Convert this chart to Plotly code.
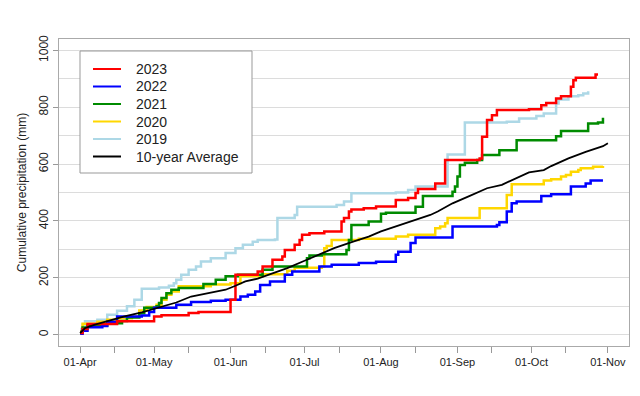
import plotly.graph_objects as go

YEAR = "2000"  # common plotting year (month-day axis)

dates_2023 = ["04-01","04-02","04-04","04-16","05-01","05-04","05-15","05-19","06-01","06-03",
              "06-12","06-14","06-18","06-22","06-23","06-27","06-29","06-30","07-03","07-09",
              "07-16","07-17","07-19","07-20","07-25","07-30","08-07","08-12","08-15","08-16",
              "08-23","08-27","09-10","09-11","09-13","09-15","09-17","09-30","10-05","10-07",
              "10-11","10-13","10-17","10-18","10-19","10-27","10-28"]
vals_2023 = [6,20,37,47,64,68,76,80,123,211,
             222,240,263,275,298,316,333,351,357,363,
             398,410,433,440,445,451,474,481,498,512,
             532,614,620,696,755,772,790,793,807,815,
             831,839,872,895,904,915,915]

dates_2022 = ["04-01","04-02","04-04","04-10","04-12","04-16","04-26","04-29","05-01","05-10",
              "05-16","05-24","05-30","06-05","06-08","06-11","06-13","06-17","06-23","06-26",
              "07-07","07-12","07-23","07-30","08-07","08-08","08-13","08-15","08-30","09-17",
              "09-18","09-21","09-23","09-25","10-05","10-09","10-17","10-23","10-25","10-30"]
vals_2022 = [3,14,26,30,45,64,67,80,95,105,
             115,119,123,134,140,152,175,187,211,222,
             240,246,252,256,281,292,322,342,380,386,
             395,433,462,468,488,494,521,532,542,542]

dates_2021 = ["04-01","04-02","04-04","04-12","04-18","04-20","04-25","04-27","05-02","05-03",
              "05-04","05-06","05-08","05-11","05-21","05-26","05-30","06-04","06-14","06-18",
              "07-02","07-03","07-08","07-18","07-19","07-20","07-27","08-01","08-03","08-15",
              "08-18","08-30","08-31","09-01","09-02","09-04","09-09","09-11","09-18","09-25",
              "10-11","10-13","10-24","10-28","10-30"]
vals_2021 = [10,25,32,40,48,60,75,95,100,111,
             129,146,158,164,178,193,205,211,228,240,
             269,278,283,298,333,386,398,425,429,450,
             488,503,521,556,597,605,614,632,649,684,
             698,716,743,746,763]

dates_2020 = ["04-01","04-02","04-08","04-12","04-17","04-22","04-25","04-28","05-02","05-04",
              "05-06","05-08","05-11","05-24","06-01","06-05","06-14","06-24","06-27","07-08",
              "07-09","07-10","07-12","07-23","08-07","08-12","08-23","08-25","08-27","08-28",
              "09-10","09-21","09-23","10-06","10-09","10-13","10-15","10-17","10-20","10-21",
              "10-26","10-30"]
vals_2020 = [12,38,45,52,58,63,85,97,105,123,
             140,152,170,176,181,205,212,225,235,240,
             304,312,333,337,345,351,374,380,392,410,
             445,491,529,542,547,556,562,573,579,585,
             591,593]

dates_2019 = ["04-01","04-02","04-03","04-08","04-12","04-16","04-20","04-23","04-26","05-03",
              "05-07","05-09","05-10","05-12","05-15","05-18","05-20","05-24","05-30","06-03",
              "06-06","06-10","06-12","06-19","06-20","06-27","06-28","07-14","07-17","07-20",
              "08-07","08-12","08-15","08-28","09-04","09-21","09-26","10-03","10-06","10-11",
              "10-12","10-16","10-20","10-22","10-24"]
vals_2019 = [20,35,47,52,70,84,100,123,161,166,
             172,181,193,211,228,240,257,269,287,304,
             316,327,333,335,410,421,450,456,468,497,
             500,509,521,634,746,749,760,769,778,813,
             827,839,842,848,856]

dates_avg = ["04-01","04-03","04-07","04-12","04-19","04-26","05-02","05-10","05-16","05-23",
             "05-30","06-03","06-07","06-12","06-24","07-01","07-08","07-13","07-21","07-27",
             "08-01","08-08","08-15","08-21","08-24","08-30","09-06","09-13","09-19","09-25",
             "09-30","10-06","10-09","10-16","10-23","10-30","11-01"]
vals_avg = [5,23,35,47,64,78,94,113,134,146,
            158,172,187,197,234,260,287,304,328,345,
            363,383,404,421,433,462,488,515,527,550,
            571,579,593,620,643,663,673]

# drawing order (bottom to top)
series = [
    ("2019", dates_2019, vals_2019, "#ADD8E6", 2.5, "hv"),
    ("2020", dates_2020, vals_2020, "#FFD700", 2.5, "hv"),
    ("2021", dates_2021, vals_2021, "#008B00", 2.5, "hv"),
    ("2022", dates_2022, vals_2022, "#0000FF", 2.5, "hv"),
    ("2023", dates_2023, vals_2023, "#FF0000", 2.5, "hv"),
    ("10-year Average", dates_avg, vals_avg, "#000000", 1.8, "linear"),
]
legend_order = ["2023", "2022", "2021", "2020", "2019", "10-year Average"]

month_ticks = ["04-01","05-01","06-01","07-01","08-01","09-01","10-01","11-01"]
month_labels = ["01-Apr","01-May","01-Jun","01-Jul","01-Aug","01-Sep","01-Oct","01-Nov"]
mid_ticks = ["04-15","05-15","06-15","07-15","08-15","09-15","10-15"]

# the page body adds an 8px margin around the figure
OFF = 8
W, H = 640 - OFF, 396 - OFF
ML, MR, MT, MB = 59 - OFF, 11, 39 - OFF, 50
PW, PH = W - ML - MR, H - MT - MB

def px(x):  # window pixel -> paper
    return (x - OFF - ML) / PW

def py(y):
    return (OFF + H - MB - y) / PH

fig = go.Figure()
for name, d, v, col, w, shape in series:
    fig.add_trace(go.Scatter(
        x=[f"{YEAR}-{s}" for s in d], y=v, mode="lines", name=name,
        line=dict(color=col, width=w, shape=shape), showlegend=False))

font = "Arial, Liberation Sans, sans-serif"

# legend box drawn by hand to match the reference's compact layout
colors = {n: c for n, _, _, c, _, _ in series}
shapes = [dict(type="rect", xref="paper", yref="paper",
               x0=px(80), x1=px(252), y0=py(173), y1=py(51),
               line=dict(color="#999", width=1), fillcolor="white", layer="above")]
annotations = []
rows_y = [69, 86.5, 104, 121.5, 139, 156.5]
for name, yy in zip(legend_order, rows_y):
    shapes.append(dict(type="line", xref="paper", yref="paper",
                       x0=px(93), x1=px(121), y0=py(yy), y1=py(yy),
                       line=dict(color=colors[name], width=2), layer="above"))
    annotations.append(dict(xref="paper", yref="paper", x=px(134), y=py(yy),
                            xanchor="left", yanchor="middle", showarrow=False,
                            text=name, font=dict(family=font, size=14, color="#222")))

fig.update_layout(
    width=W, height=H,
    margin=dict(l=ML, r=MR, t=MT, b=MB),
    paper_bgcolor="white", plot_bgcolor="white",
    font=dict(family=font, size=11, color="#222"),
    showlegend=False,
    shapes=shapes, annotations=annotations,
    xaxis=dict(
        type="date", automargin=False,
        range=[f"{YEAR}-03-23 10:34", f"{YEAR}-11-09 13:26"],
        tickmode="array",
        tickvals=[f"{YEAR}-{s}" for s in month_ticks + mid_ticks],
        ticktext=month_labels + [""] * len(mid_ticks),
        ticks="outside", ticklen=6, tickcolor="#999",
        showgrid=False, zeroline=False,
        showline=True, linecolor="#aaa", linewidth=1, mirror=True,
        tickfont=dict(size=11, color="#222"),
    ),
    yaxis=dict(
        range=[-40, 1040], automargin=False,
        tickmode="array", tickvals=[0, 200, 400, 600, 800, 1000],
        tickangle=-90,
        ticks="outside", ticklen=5, tickcolor="#999",
        showgrid=True, gridcolor="#dcdcdc", gridwidth=1,
        minor=dict(tickmode="array", tickvals=[100, 300, 500, 700, 900],
                   showgrid=True, gridcolor="#dcdcdc", gridwidth=1),
        zeroline=False,
        showline=True, linecolor="#aaa", linewidth=1, mirror=True,
        tickfont=dict(size=12, color="#222"),
        title=dict(text="Cumulative precipitation (mm)", font=dict(size=12, color="#222"), standoff=8),
    ),
)

fig.write_html("out.html")
